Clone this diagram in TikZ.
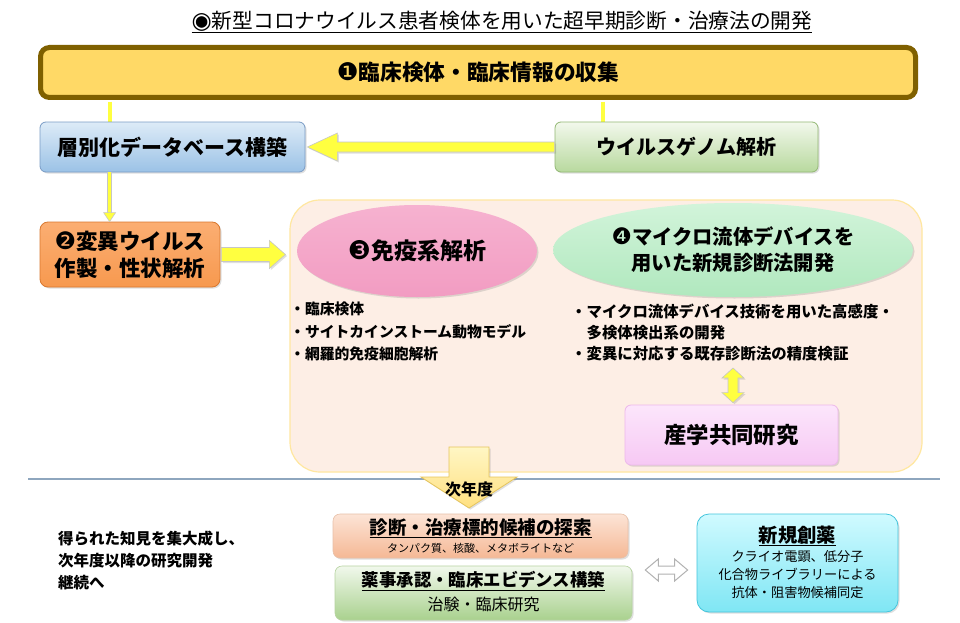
\documentclass[tikz,border=0pt]{standalone}
\usepackage{fontspec}
\setmainfont{Noto Sans CJK JP}
\newfontfamily\dv{DejaVu Sans}[Scale=1.12]
\usetikzlibrary{shapes.geometric,shadows,calc}
\definecolor{topfill}{HTML}{FFD966}
\definecolor{topborder}{HTML}{7F6000}
\definecolor{dbtop}{HTML}{DDEBF7}
\definecolor{dbbot}{HTML}{9BC2E6}
\definecolor{dbline}{HTML}{7A9CC6}
\definecolor{wgtop}{HTML}{F2F8EC}
\definecolor{wgbot}{HTML}{B8D99E}
\definecolor{wgline}{HTML}{93B874}
\definecolor{muttop}{HTML}{FBAE72}
\definecolor{mutbot}{HTML}{F7994F}
\definecolor{mutline}{HTML}{D9782F}
\definecolor{bigfill}{HTML}{FDEEE5}
\definecolor{bigline}{HTML}{FFE7A0}
\definecolor{pktop}{HTML}{F6B2D0}
\definecolor{pkbot}{HTML}{F29CC2}
\definecolor{gntop}{HTML}{D2F4DA}
\definecolor{gnbot}{HTML}{B0E8BE}
\definecolor{sgtop}{HTML}{FCE6FB}
\definecolor{sgbot}{HTML}{F6C8F4}
\definecolor{sgline}{HTML}{EDB8EB}
\definecolor{bxatop}{HTML}{FCE4D6}
\definecolor{bxabot}{HTML}{F5B895}
\definecolor{bxaline}{HTML}{E8C0A8}
\definecolor{bxbtop}{HTML}{F1F8EC}
\definecolor{bxbbot}{HTML}{A9D18E}
\definecolor{bxbline}{HTML}{B6D3A0}
\definecolor{cytop}{HTML}{D0FAFF}
\definecolor{cybot}{HTML}{7FE6F4}
\definecolor{cyline}{HTML}{45C5DC}
\definecolor{sepline}{HTML}{8EA6BE}
\definecolor{ayellow}{HTML}{FFFF40}
\definecolor{nxtop}{HTML}{FFF6C4}
\definecolor{nxbot}{HTML}{FFE080}
\definecolor{nxline}{HTML}{E6C55C}
\begin{document}
\begin{tikzpicture}[x=1pt,y=-1pt,
  box/.style={rectangle, rounded corners=6pt, inner sep=0pt, align=center,
    font=\bfseries\fontsize{20}{24}\selectfont},
  shad/.style={drop shadow={shadow xshift=1.5pt,shadow yshift=-1.5pt,opacity=0.25}},
  yarrow/.style={fill=ayellow, draw=gray!45, line width=0.6pt},
  yline/.style={draw=gray!45, double=ayellow, double distance=3.5pt, line width=0.5pt},
  bul/.style={anchor=north west, align=left, inner sep=0pt},
]
\useasboundingbox[fill=white] (0,0) rectangle (960,623);

% title
\node[font=\fontsize{20.7}{24}\selectfont] (title) at (502,22) {\underline{{\dv ◉}新型コロナウイルス患者検体を用いた超早期診断・治療法の開発}};

% boxes
\node[box, minimum width=875pt, minimum height=50pt, fill=topfill, draw=topborder,
  line width=5pt, rounded corners=9pt, font=\bfseries\fontsize{21.7}{24}\selectfont] (top) at (478,72.5)
  {{\dv\mdseries ❶}臨床検体・臨床情報の収集};

% vertical connectors from top box
\draw[yline] ($(top.south -| 110,0)+(0,2)$) -- (110,123);
\draw[yline] ($(top.south -| 603,0)+(0,2)$) -- (603,123);

\node[box, shad, minimum width=265pt, minimum height=50pt, top color=dbtop, bottom color=dbbot,
  draw=dbline, line width=0.8pt, font=\bfseries\fontsize{21}{24}\selectfont] (db) at (172.5,147) {層別化データベース構築};
\node[box, shad, minimum width=263pt, minimum height=50pt, top color=wgtop, bottom color=wgbot,
  draw=wgline, line width=0.8pt] (wg) at (686.5,147) {ウイルスゲノム解析};

% horizontal block arrow wg -> db
\coordinate (hT) at ($(db.east)+(2,0)$);
\draw[yarrow, shad] ($(wg.west)+(0,-5)$) -- ($(hT)+(30,-5)$) -- ($(hT)+(30,-14)$) -- (hT)
  -- ($(hT)+(30,14)$) -- ($(hT)+(30,5)$) -- ($(wg.west)+(0,5)$) -- cycle;

% big box
\node[rectangle, rounded corners=30pt, minimum width=632pt, minimum height=272pt,
  fill=bigfill, draw=bigline, line width=1.2pt] (big) at (606,336) {};

\node[box, shad, minimum width=180pt, minimum height=65pt, top color=muttop, bottom color=mutbot,
  draw=mutline, line width=0.8pt, rounded corners=8pt, font=\bfseries\fontsize{21.5}{27}\selectfont] (mut) at (130,254.5)
  {{\dv\mdseries ❷}変異ウイルス\\作製・性状解析};

% db -> mut
\coordinate (dA) at ($(db.south west)+(70,0)$);
\coordinate (dB) at ($(mut.north west)+(70,0)$);
\draw[yline] (dA) -- ($(dB)+(0,-8)$);
\draw[yarrow] ($(dB)+(-6,-9)$) -- (dB) -- ($(dB)+(6,-9)$) -- cycle;

% mut -> big
\coordinate (mT) at ($(mut.east -| big.west)+(-4,0)$);
\draw[yarrow, shad] ($(mut.east)+(1,-7)$) -- ($(mT)+(-16,-7)$) -- ($(mT)+(-16,-14)$) -- (mT)
  -- ($(mT)+(-16,14)$) -- ($(mT)+(-16,7)$) -- ($(mut.east)+(1,7)$) -- cycle;

% ellipses
\node[ellipse, shad, minimum width=240pt, minimum height=92pt, inner sep=0pt, top color=pktop,
  bottom color=pkbot, draw=none, font=\bfseries\fontsize{23}{26}\selectfont] (e3) at (417,251)
  {{\dv\mdseries ❸}免疫系解析};
\node[ellipse, shad, minimum width=360pt, minimum height=94pt, inner sep=0pt, top color=gntop,
  bottom color=gnbot, draw=none, align=center, font=\bfseries\fontsize{20.3}{26}\selectfont] (e4) at (733,250)
  {{\dv\mdseries ❹}マイクロ流体デバイスを\\用いた新規診断法開発};

% bullets
\node[bul, font=\bfseries\fontsize{14.8}{22.5}\selectfont] (b3) at (290,302)
  {・臨床検体\\・サイトカインストーム動物モデル\\・網羅的免疫細胞解析};
\node[bul, font=\bfseries\fontsize{15.4}{21}\selectfont] (b4) at (571,304)
  {・マイクロ流体デバイス技術を用いた高感度・\\\hspace*{1em}多検体検出系の開発\\・変異に対応する既存診断法の精度検証};

\node[box, shad, minimum width=213pt, minimum height=60pt, top color=sgtop, bottom color=sgbot,
  draw=sgline, line width=0.8pt, font=\bfseries\fontsize{22.4}{24}\selectfont] (sg) at (731.5,435) {産学共同研究};

% double arrow b4 <-> sg
\coordinate (dT) at (733,368);
\coordinate (dD) at ($(sg.north -| dT)+(0,-2)$);
\draw[yarrow, shad] (dT) -- ($(dT)+(11,10)$) -- ($(dT)+(5,10)$) -- ($(dD)+(5,-10)$) -- ($(dD)+(11,-10)$)
  -- (dD) -- ($(dD)+(-11,-10)$) -- ($(dD)+(-5,-10)$) -- ($(dT)+(-5,10)$) -- ($(dT)+(-11,10)$) -- cycle;

% separator line
\coordinate (sL) at (28,479);
\coordinate (sR) at (940,479);
\draw[sepline, line width=1.5pt] (sL) -- (sR);

% next-year arrow
\coordinate (nT) at (469,508);
\draw[top color=nxtop, bottom color=nxbot, draw=nxline, line width=0.8pt, shad]
  ($(nT)+(-20,-61)$) -- ($(nT)+(20,-61)$) -- ($(nT)+(20,-31)$) -- ($(nT)+(48,-31)$) -- (nT)
  -- ($(nT)+(-48,-31)$) -- ($(nT)+(-20,-31)$) -- cycle;
\node[font=\bfseries\fontsize{16}{18}\selectfont, inner sep=0pt] (nx) at ($(nT)+(0,-19)$) {次年度};

% left bottom text
\node[bul, font=\bfseries\fontsize{15.5}{22}\selectfont] (lt) at (58,531)
  {得られた知見を集大成し、\\次年度以降の研究開発\\継続へ};

% bottom boxes
\node[box, shad, minimum width=295pt, minimum height=44pt, top color=bxatop, bottom color=bxabot,
  draw=bxaline, line width=0.6pt, rounded corners=7pt] (bx1) at (480.5,536) {};
\node[inner sep=0pt, font=\bfseries\fontsize{18.5}{20}\selectfont] (bx1t) at ($(bx1.center)+(0,-8)$)
  {\underline{診断・治療標的候補の探索}};
\node[inner sep=0pt, font=\fontsize{11}{13}\selectfont] (bx1s) at ($(bx1.center)+(0,12)$)
  {タンパク質、核酸、メタボライトなど};

\node[box, shad, minimum width=297pt, minimum height=54pt, top color=bxbtop, bottom color=bxbbot,
  draw=bxbline, line width=0.6pt, rounded corners=7pt] (bx2) at (483.5,593) {};
\node[inner sep=0pt, font=\bfseries\fontsize{17.4}{20}\selectfont] (bx2t) at ($(bx2.center)+(0,-12)$)
  {\underline{薬事承認・臨床エビデンス構築}};
\node[inner sep=0pt, font=\fontsize{16}{18}\selectfont] (bx2s) at ($(bx2.center)+(0,11)$)
  {治験・臨床研究};

\node[box, shad, minimum width=201pt, minimum height=98pt, top color=cytop, bottom color=cybot,
  draw=cyline, line width=0.8pt, rounded corners=12pt] (cy) at (797.5,563) {};
\node[inner sep=0pt, font=\bfseries\fontsize{19.3}{20}\selectfont] (cyt) at ($(cy.center)+(0,-27)$)
  {\underline{新規創薬}};
\node[inner sep=0pt, align=center, font=\fontsize{13.2}{18}\selectfont] (cys) at ($(cy.center)+(0,12)$)
  {クライオ電顕、低分子\\化合物ライブラリーによる\\抗体・阻害物候補同定};

% hollow double arrow
\coordinate (hL) at ($(bx2.east |- 0,570)+(13,0)$);
\coordinate (hR) at ($(cy.west |- 0,570)+(-9,0)$);
\draw[fill=white, draw=gray!60, line width=1pt] (hL) -- ($(hL)+(13,-11)$) -- ($(hL)+(13,-4)$)
  -- ($(hR)+(-13,-4)$) -- ($(hR)+(-13,-11)$) -- (hR) -- ($(hR)+(-13,11)$) -- ($(hR)+(-13,4)$)
  -- ($(hL)+(13,4)$) -- ($(hL)+(13,11)$) -- cycle;
\end{tikzpicture}
\end{document}
